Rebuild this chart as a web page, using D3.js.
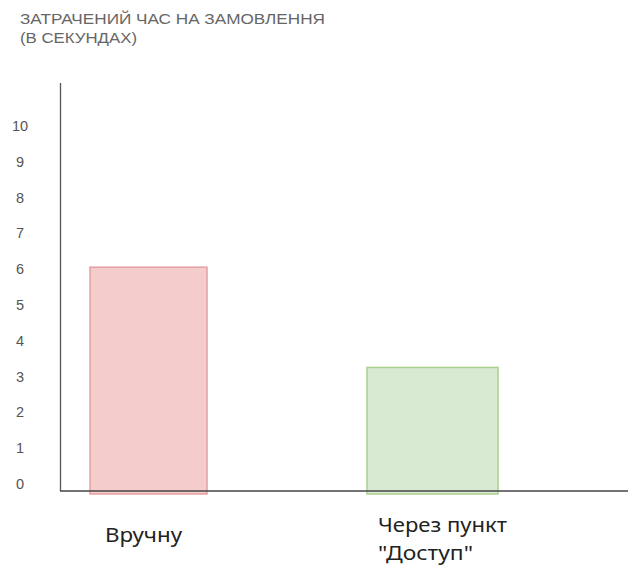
<!DOCTYPE html>
<html><head><meta charset="utf-8">
<script src="https://cdn.jsdelivr.net/npm/d3@7"></script>
<style>body{margin:0;background:#fff;}</style>
</head><body>
<script>
const titleLines = ["ЗАТРАЧЕНИЙ ЧАС НА ЗАМОВЛЕННЯ", "(В СЕКУНДАХ)"];
const categories = ["Вручну", "Через пункт \"Доступ\""];
const categoryLines = [["Вручну"], ["Через пункт", "\"Доступ\""]];
const values = [6, 3.2];
const fills = ["#f4cccc", "#d9ead3"];
const strokes = ["#e3a0a3", "#a9d08e"];
const yTicks = [0,1,2,3,4,5,6,7,8,9,10];

const W = 628, H = 568;
const barWidths = [117, 131];
const titleWidths = [305, 117];
const labelWidths = [[77], [129, 95]];
const svg = d3.select("body").append("svg").attr("width", W).attr("height", H);

const y = d3.scaleLinear().domain([0, 10]).range([484, 126]);
const x = d3.scalePoint().domain(categories).range([148.5, 432.5]);

// title
svg.append("g").selectAll("text").data(titleLines).join("text")
  .attr("x", 20).attr("y", (d,i) => 24 + i*19)
  .attr("font-family", "Liberation Sans, Arial, sans-serif")
  .attr("font-size", 14.5).attr("fill", "#666")
  .attr("textLength", (d,i) => titleWidths[i]).attr("lengthAdjust", "spacingAndGlyphs")
  .text(d => d);

// y tick labels
svg.append("g").selectAll("text").data(yTicks).join("text")
  .attr("x", 20).attr("y", d => y(d)).attr("dy", "0.35em")
  .attr("text-anchor", "middle")
  .attr("font-family", "Liberation Sans, Arial, sans-serif")
  .attr("font-size", 14.5).attr("fill", "#555")
  .text(d => d);

const baseline = y(0) + 7;
// bars
svg.append("g").selectAll("rect").data(values).join("rect")
  .attr("x", (d,i) => x(categories[i]) - barWidths[i]/2)
  .attr("y", d => y(d) - 2)
  .attr("width", (d,i) => barWidths[i])
  .attr("height", d => baseline + 5 - y(d))
  .attr("fill", (d,i) => fills[i])
  .attr("stroke", (d,i) => strokes[i])
  .attr("stroke-width", 1.5);

// axes lines
svg.append("line").attr("x1", 60.5).attr("x2", 60.5).attr("y1", 83).attr("y2", baseline)
  .attr("stroke", "#555").attr("stroke-width", 1.3);
svg.append("line").attr("x1", 60).attr("x2", W).attr("y1", baseline).attr("y2", baseline)
  .attr("stroke", "#444").attr("stroke-width", 1.6);

// category labels
const labX = [105, 378];
const labY = [542, 532];
svg.append("g").selectAll("g").data(categoryLines).join("g")
  .each(function(lines, i) {
    d3.select(this).selectAll("text").data(lines).join("text")
      .attr("font-family", "Noto Sans, Open Sans, sans-serif")
      .attr("font-size", 19.5).attr("fill", "#222")
      .attr("x", labX[i])
      .attr("y", (d,j) => labY[i] + j*28)
      .attr("textLength", (d,j) => labelWidths[i][j]).attr("lengthAdjust", "spacingAndGlyphs")
      .text(d => d);
  });
</script>
</body></html>
